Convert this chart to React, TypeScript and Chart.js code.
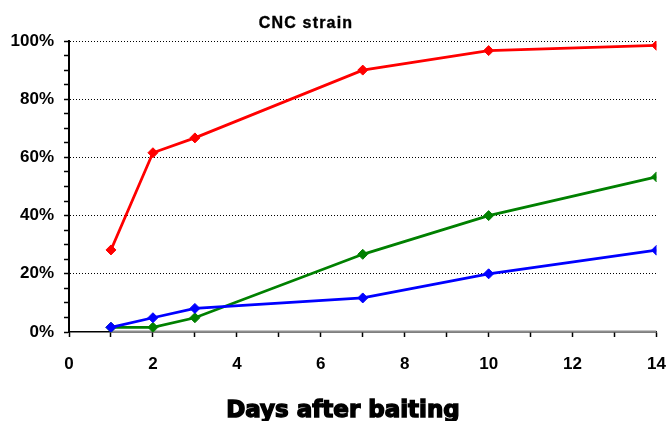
import React, { useEffect, useRef } from 'react';
import { Chart, registerables } from 'chart.js';

Chart.register(...registerables);

const days = [1, 2, 3, 7, 10, 14];
const redSeries = [28.2, 61.6, 66.7, 90.0, 96.7, 98.5];
const blueSeries = [1.6, 4.9, 8.1, 11.7, 20.0, 28.1];
const greenSeries = [1.6, 1.6, 4.9, 26.7, 40.0, 53.3];
const baselineSeries = [0, 0, 0, 0, 0, 0];

const chartTitle = 'CNC strain';
const xAxisTitle = 'Days after baiting';

const toPoints = (ys: number[]) => ys.map((y, i) => ({ x: days[i], y }));

const textPlugin = {
  id: 'customTexts',
  afterDraw(chart: any) {
    const ctx = chart.ctx as CanvasRenderingContext2D;
    ctx.save();
    ctx.fillStyle = '#000';
    ctx.strokeStyle = '#000';
    ctx.textAlign = 'center';
    ctx.textBaseline = 'alphabetic';
    ctx.font = 'bold 16px "Liberation Sans", Arial, sans-serif';
    (ctx as any).letterSpacing = '1.2px';
    ctx.lineWidth = 0.4;
    ctx.fillText(chartTitle, 306, 28);
    ctx.strokeText(chartTitle, 306, 28);
    (ctx as any).letterSpacing = '0px';
    ctx.font = 'bold 23px "DejaVu Sans", sans-serif';
    ctx.lineWidth = 1.4;
    ctx.fillText(xAxisTitle, 343, 417);
    ctx.strokeText(xAxisTitle, 343, 417);
    ctx.restore();
  },
};

export default function App() {
  const canvasRef = useRef<HTMLCanvasElement | null>(null);

  useEffect(() => {
    const canvas = canvasRef.current;
    if (!canvas) return;
    const tickFont = { family: '"Liberation Sans", Arial, sans-serif', size: 17, weight: 'bold' as const };
    const mkDs = (data: number[], color: string, showPoints = true, width = 2.8) => ({
      data: toPoints(data),
      borderColor: color,
      backgroundColor: color,
      borderWidth: width,
      pointStyle: 'rectRot' as const,
      pointRadius: showPoints ? 5 : 0,
      pointBorderWidth: 1,
      pointBorderColor: color,
      pointBackgroundColor: color,
      tension: 0,
    });
    const chart = new Chart(canvas, {
      type: 'line',
      data: {
        datasets: [
          mkDs(redSeries, '#ff0000'),
          mkDs(blueSeries, '#0000ff'),
          mkDs(greenSeries, '#008000'),
          mkDs(baselineSeries, '#8c8c8c', false, 3),
        ],
      },
      options: {
        responsive: false,
        animation: false,
        events: [],
        layout: { padding: { top: 41, right: 11.5, left: 0, bottom: 0 } },
        plugins: {
          legend: { display: false },
          title: { display: false },
          tooltip: { enabled: false },
        },
        scales: {
          x: {
            type: 'linear',
            min: 0,
            max: 14,
            afterFit: (s: any) => { s.height = 89; s.paddingLeft = 0; s.paddingRight = 0; },
            border: { display: true, color: '#000', width: 1.5 },
            grid: {
              drawOnChartArea: false,
              drawTicks: true,
              tickLength: 5,
              tickColor: '#000',
              tickWidth: 1.5,
            },
            ticks: {
              stepSize: 1,
              autoSkip: false,
              maxRotation: 0,
              padding: 17,
              color: '#000',
              font: tickFont,
              callback: (v: any) => (Number(v) % 2 === 0 ? String(v) : ''),
            },
          },
          y: {
            type: 'linear',
            min: 0,
            max: 100,
            afterFit: (s: any) => { s.width = 69; s.paddingTop = 0; s.paddingBottom = 0; },
            border: { display: true, color: '#000', width: 2, dash: [1, 2] },
            grid: {
              drawTicks: true,
              tickLength: 5,
              tickWidth: 1.5,
              tickColor: '#000',
              lineWidth: 1,
              color: (c: any) => {
                const v = c.tick ? c.tick.value : 0;
                return v > 0 && v % 20 === 0 ? '#000' : 'rgba(0,0,0,0)';
              },
            },
            ticks: {
              stepSize: 5,
              autoSkip: false,
              padding: 10,
              color: '#000',
              font: tickFont,
              callback: (v: any) => (Number(v) % 20 === 0 ? v + '%' : ''),
            },
          },
        },
      },
      plugins: [textPlugin],
    });
    return () => chart.destroy();
  }, []);

  return (
    <div style={{ position: 'absolute', left: 0, top: 0, width: 668, height: 421, background: '#fff' }}>
      <canvas ref={canvasRef} width={668} height={421} style={{ display: 'block' }} />
    </div>
  );
}
